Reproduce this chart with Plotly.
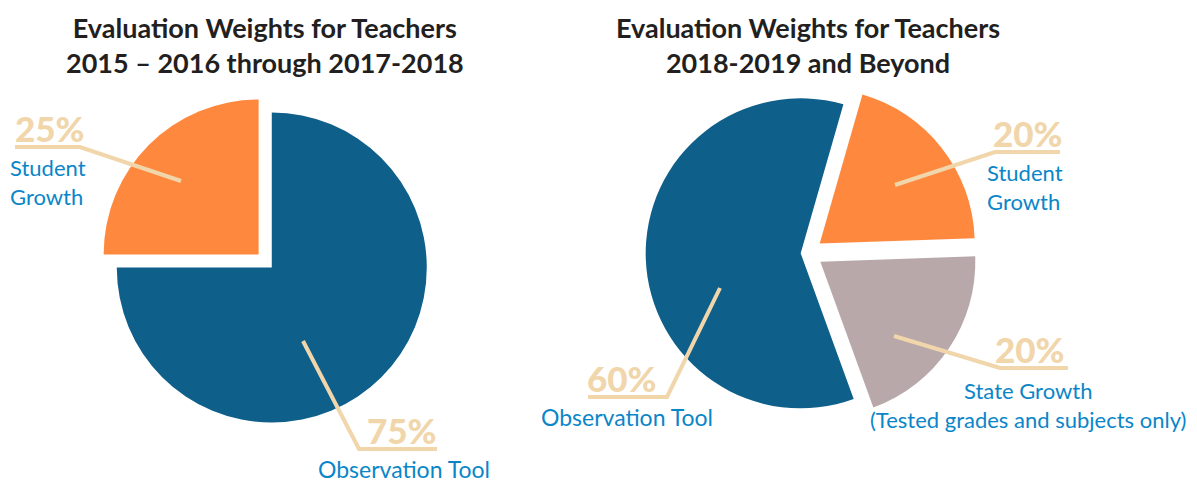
import plotly.graph_objects as go

# ---------------- data ----------------
left_title = "Evaluation Weights for Teachers<br>2015 – 2016 through 2017-2018"
right_title = "Evaluation Weights for Teachers<br>2018-2019 and Beyond"

left_labels = ["Observation Tool", "Student Growth"]
left_values = [75, 25]

right_labels = ["Observation Tool", "Student Growth",
                "State Growth<br>(Tested grades and subjects only)"]
right_values = [60, 20, 20]

# ---------------- style ----------------
W, H = 1197, 482
BLUE = "#0F5F8B"
ORANGE = "#FE893E"
GRAY = "#B8A8AA"
TAN = "#F0D6AA"
LABEL = "#0A86C8"
TITLE = "#231F20"
FONT = "Lato"


def px(x):
    return x / W


def py(y):
    return 1 - y / H


def domain(cx, cy, r, maxpull):
    half = r * (1 + maxpull)
    return dict(x=[px(cx - half), px(cx + half)], y=[py(cy + half), py(cy - half)])


left_pull = [0.06, 0.06]
right_pull = [0.044, 0.10, 0.10]

fig = go.Figure()
fig.add_trace(go.Pie(
    labels=left_labels, values=left_values, sort=False, direction="clockwise",
    rotation=0, pull=left_pull, marker=dict(colors=[BLUE, ORANGE], line=dict(width=0)),
    textinfo="none", hoverinfo="skip", showlegend=False,
    domain=domain(265.2, 261, 155, max(left_pull)),
))
fig.add_trace(go.Pie(
    labels=right_labels, values=right_values, sort=False, direction="clockwise",
    rotation=160, pull=right_pull, marker=dict(colors=[BLUE, ORANGE, GRAY], line=dict(width=0)),
    textinfo="none", hoverinfo="skip", showlegend=False,
    domain=domain(807.5, 253.1, 155, max(right_pull)),
))

annotations = []


def ann(text, x, y, size, color, xanchor="left", weight=400, align="left"):
    annotations.append(dict(
        text=text, x=px(x), y=py(y), xref="paper", yref="paper",
        xanchor=xanchor, yanchor="middle", showarrow=False, align=align,
        font=dict(family=FONT, size=size, color=color, weight=weight),
    ))


# titles
ann(left_title, 265, 45, 27, TITLE, xanchor="center", weight=700, align="center")
ann(right_title, 808, 45, 27, TITLE, xanchor="center", weight=700, align="center")

pct = lambda v: f"{v}%"
# left pie labels
ann(pct(left_values[1]), 13, 128, 35, TAN, weight=900)
ann(left_labels[1].replace(" ", "<br>"), 8, 182, 22, LABEL)
ann(pct(left_values[0]), 365, 430, 35, TAN, weight=900)
ann(left_labels[0], 404, 469, 23, LABEL, xanchor="center", align="center")

# right pie labels
ann(pct(right_values[1]), 991, 133, 35, TAN, weight=900)
ann(right_labels[1].replace(" ", "<br>"), 985, 187, 22, LABEL)
ann(pct(right_values[0]), 585, 378, 35, TAN, weight=900)
ann(right_labels[0], 627, 417, 23, LABEL, xanchor="center", align="center")
ann(pct(right_values[2]), 993, 349, 35, TAN, weight=900)
ann(right_labels[2], 1028, 405, 22, LABEL, xanchor="center", align="center")

# leader lines (pixel coordinates converted to paper)
leaders = [
    [(15, 147), (80, 147), (181, 181)],
    [(303, 341), (359, 449), (437, 449)],
    [(895, 185), (995, 152), (1060, 152)],
    [(894, 336), (1000, 368), (1068, 368)],
    [(720, 288), (667, 397), (588, 397)],
]
shapes = []
for pts in leaders:
    path = "M " + " L ".join(f"{px(x):.5f},{py(y):.5f}" for x, y in pts)
    shapes.append(dict(type="path", path=path, xref="paper", yref="paper",
                       line=dict(color=TAN, width=4), layer="above"))

fig.update_layout(
    width=W, height=H, margin=dict(l=0, r=0, t=0, b=0),
    paper_bgcolor="white", plot_bgcolor="white",
    annotations=annotations, shapes=shapes,
)

fig.write_html(
    "out.html",
    config={"displayModeBar": False},
    post_script="document.body.style.margin='0';document.body.style.overflow='hidden';",
)
